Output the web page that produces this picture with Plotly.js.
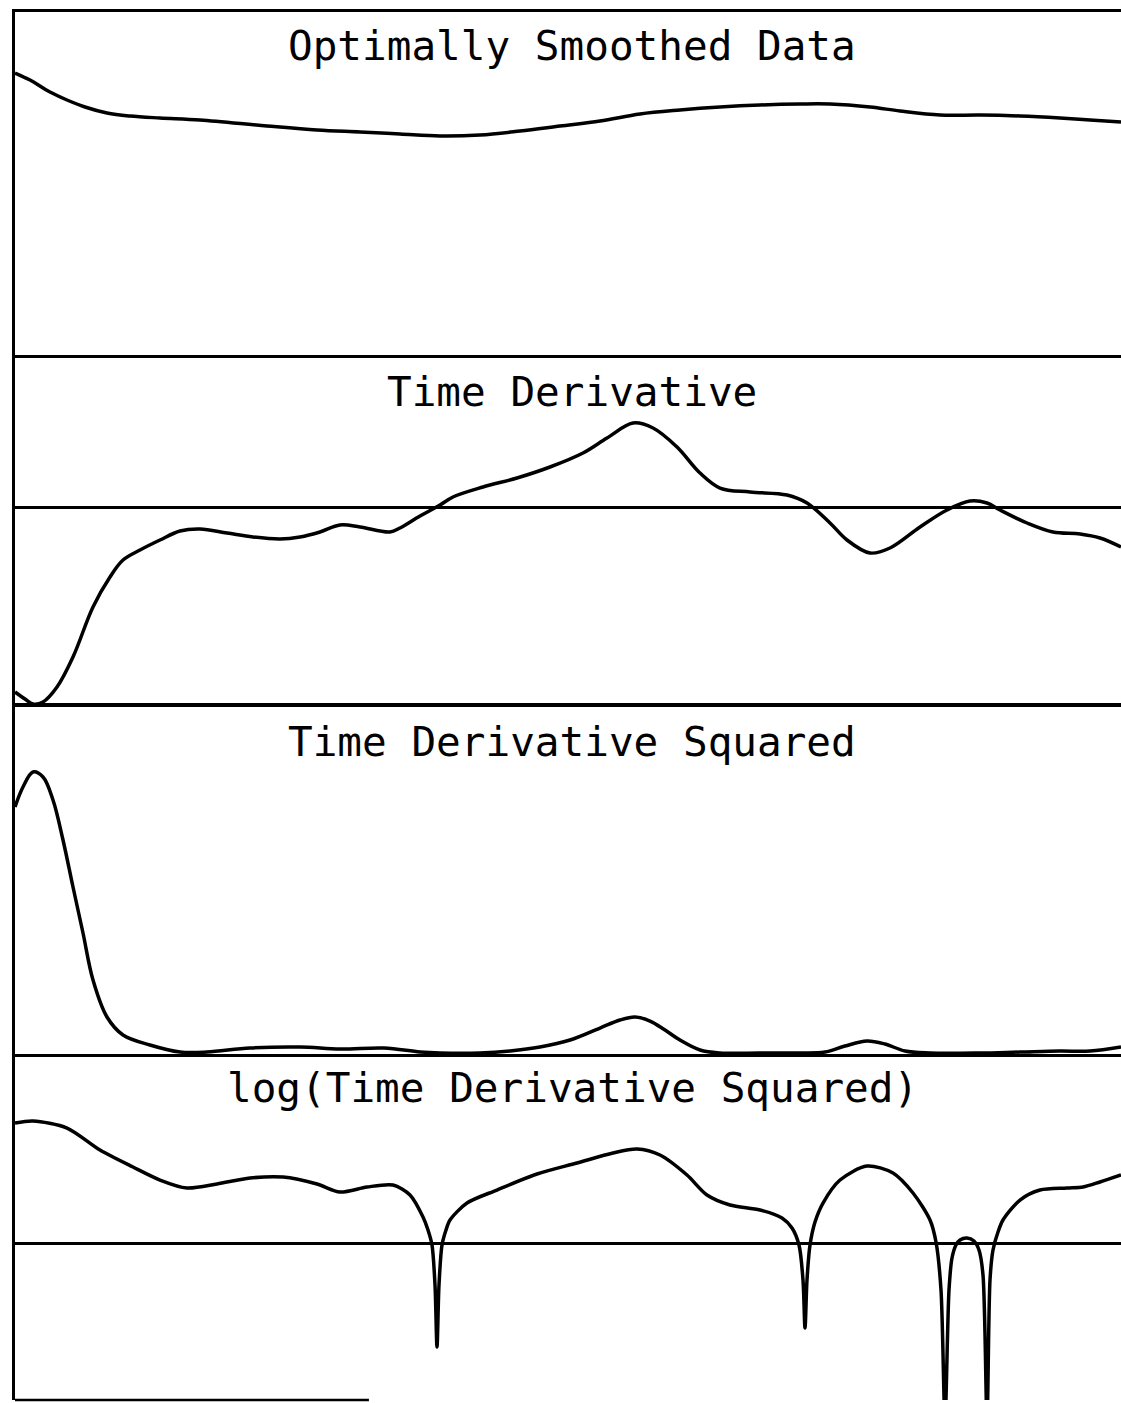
<!DOCTYPE html>
<html>
<head>
<meta charset="utf-8">
<script src="https://cdn.plot.ly/plotly-3.0.1.min.js"></script>
<style>
html,body{margin:0;padding:0;background:#fff;overflow:hidden;}
#chart{width:1121px;height:1403px;}
</style>
</head>
<body>
<div id="chart"></div>
<script>
// Panel titles
var titles = ["Optimally Smoothed Data", "Time Derivative", "Time Derivative Squared", "log(Time Derivative Squared)"];

// Panel 1: optimally smoothed data
var smoothT = [0,15,35,52,70,92,115,145,185,252,302,345,385,425,465,505,545,585,625,665,705,745,785,815,855,885,925,965,1005,1045,1075,1106];
var smoothV = [285,278,266,258,251,245,242,240,238,232,228,226,224,222,223,227,232,237,244,248,251,253,254,254,251,247,243,243,242,240,238,236];

// Panel 2: time derivative
var derivT = [0,10,18,28,42,58,78,95,108,125,145,165,185,212,238,265,285,305,325,345,375,385,405,425,438,468,502,535,568,592,618,638,662,685,705,735,772,792,815,832,855,875,905,932,955,972,985,1012,1038,1065,1085,1106];
var derivV = [-185,-192,-197,-195,-180,-150,-100,-70,-53,-43,-33,-24,-22,-26,-30,-32,-30,-25,-18,-20,-25,-21,-9,2,10,20,29,40,54,69,84,79,60,34,19,15,12,4,-16,-33,-46,-41,-20,-3,6,4,-3,-16,-25,-27,-31,-40];

// Panel 3: time derivative squared
var sqT = [0,8,18,28,38,48,58,68,78,92,108,135,165,192,235,285,325,369,405,425,465,495,525,555,585,605,620,635,650,665,685,705,745,785,810,830,852,870,890,915,965,1005,1045,1075,1106];
var sqV = [246,266,281,276,253,213,166,120,73,36,18,8,1,1,5,6,4,5,1,0,0,2,6,13,25,33,36,32,23,13,3,0,0,0,1,7,12,9,2,0,0,1,2,2,6];

// Panel 4: log(time derivative squared)
var logT = [0,18,52,85,118,145,172,202,235,268,302,325,352,378,395,408,413,417,420,422,424,427,431,435,452,482,522,562,598,622,645,672,692,715,745,767,777,784,788,790,792,795,800,808,825,852,878,898,915,921,926,930,934,937,941,945,952,959,964,968,972,975,978,983,988,1005,1025,1052,1068,1085,1106];
var logV = [120,122,115,93,76,63,55,59,65,66,59,51,56,58,48,26,13,-2,-42,-104,-42,-2,13,23,40,53,69,80,90,94,88,68,48,38,33,25,15,-2,-37,-85,-37,-2,21,40,63,77,70,50,23,1,-47,-177,-47,-15,-2,3,5,2,-7,-32,-177,-37,-7,11,23,43,53,55,56,61,68];

var lineStyle = {color:'#000', width:3.5, shape:'spline', smoothing:1};
var traces = [
  {x:smoothT, y:smoothV, xaxis:'x', yaxis:'y', mode:'lines', line:lineStyle, hoverinfo:'skip'},
  {x:derivT, y:derivV, xaxis:'x2', yaxis:'y2', mode:'lines', line:lineStyle, hoverinfo:'skip'},
  {x:sqT, y:sqV, xaxis:'x3', yaxis:'y3', mode:'lines', line:lineStyle, hoverinfo:'skip'},
  {x:logT, y:logV, xaxis:'x4', yaxis:'y4', mode:'lines', line:{color:'#000', width:3.5, shape:'spline', smoothing:0.8}, hoverinfo:'skip'}
];

function xax(anchor){
  return {anchor:anchor, range:[0,1106], side:'top', showline:true, linewidth:3.5, linecolor:'#000',
    showgrid:false, zeroline:false, showticklabels:false, ticks:''};
}
function yax(domain, range, zl){
  return {domain:domain, range:range, showline:true, linewidth:3.5, linecolor:'#000',
    showgrid:false, zeroline:zl, zerolinecolor:'#000', zerolinewidth:3,
    showticklabels:false, ticks:''};
}

var fontT = {family:'DejaVu Sans Mono, monospace', size:41, color:'#000'};
var titleY = [0.9755, 0.7262, 0.4741, 0.2248];
var annotations = titles.map(function(t,i){
  return {text:t, xref:'paper', yref:'paper', x:0.504, y:titleY[i], xanchor:'center', yanchor:'middle',
    showarrow:false, font:fontT};
});

var layout = {
  width:1121, height:1403,
  margin:{l:15, r:0, t:12, b:3},
  paper_bgcolor:'#fff', plot_bgcolor:'#fff',
  showlegend:false,
  xaxis:xax('y'), xaxis2:xax('y2'), xaxis3:xax('y3'), xaxis4:xax('y4'),
  yaxis:yax([0.7507,1],[0,346],false),
  yaxis2:yax([0.4993,0.7507],[-200,149],true),
  yaxis3:yax([0.2471,0.4993],[-4,346],false),
  yaxis4:yax([0,0.2471],[-157,186],true),
  annotations:annotations,
  shapes:[{type:'line', xref:'paper', yref:'paper', x0:0, x1:0.32, y0:0, y1:0, line:{color:'#000', width:2.5}}]
};

Plotly.newPlot('chart', traces, layout, {displayModeBar:false, staticPlot:true});
</script>
</body>
</html>
